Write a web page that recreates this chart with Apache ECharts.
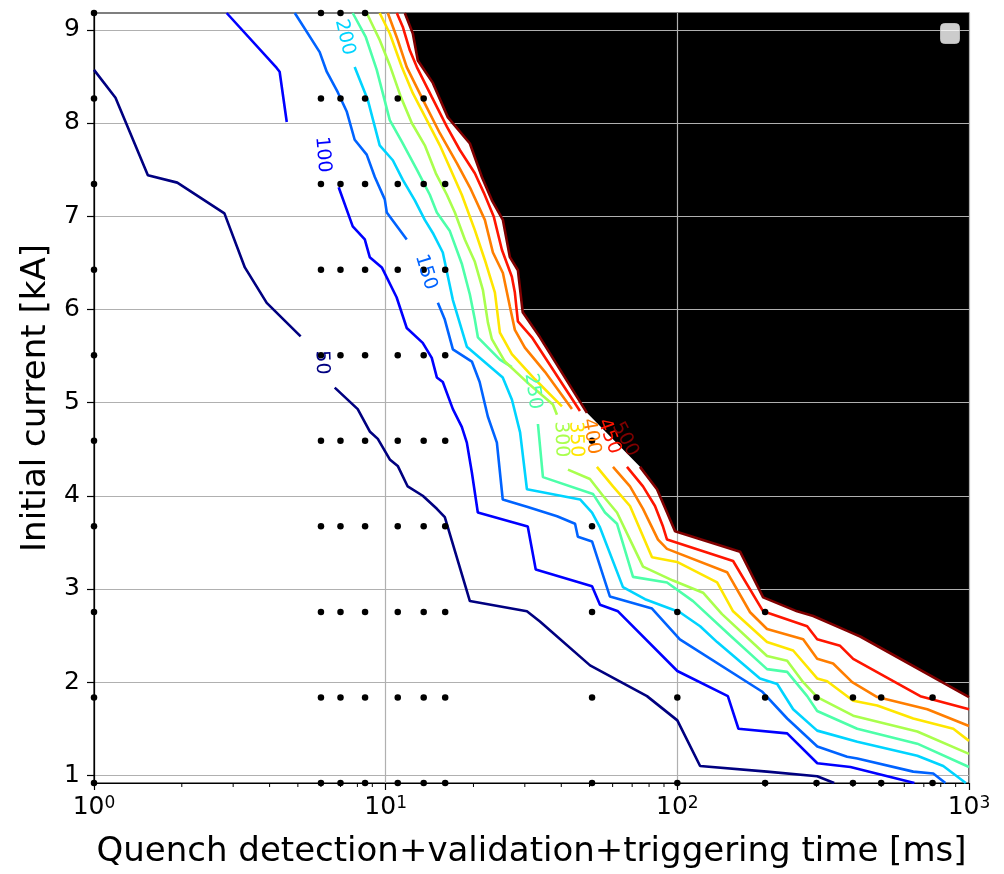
<!DOCTYPE html>
<html><head><meta charset="utf-8">
<script src="https://cdn.jsdelivr.net/npm/echarts@6/dist/echarts.min.js"></script>
<style>html,body{margin:0;padding:0;background:#fff}#c{width:1004px;height:874px}</style>
</head><body><div id="c"></div>
<script>
// ---- axis extents / ticks ----
const timeMin = 1, timeMax = 1000;
const currentMin = 0.918, currentMax = 9.18;
const currentTicks = [1, 2, 3, 4, 5, 6, 7, 8, 9];
const timeMinorTicks = [2,3,4,5,6,7,8,9,20,30,40,50,60,70,80,90,200,300,400,500,600,700,800,900];

// ---- contour levels ----
const levels = [50, 100, 150, 200, 250, 300, 350, 400, 450, 500];
const levelColors = ['#000080','#0000ff','#0063ff','#00d4ff','#4dffa9','#a9ff4d','#ffe600','#ff7e00','#ff1500','#800000'];

// ---- contour polylines [time ms, current kA]; A/B = parts split by inline label ----
const contour050A = [[1,8.57],[1.185,8.27],[1.53,7.44],[1.93,7.36],[2.80,7.03],[3.29,6.45],[3.91,6.07],[5.11,5.71]];
const contour050B = [[6.69,5.16],[8.02,4.93],[8.82,4.69],[9.40,4.61],[10.33,4.39],[11.0,4.32],[11.9,4.10],[13.4,4.00],[14.98,3.86],[15.95,3.77],[19.44,2.87],[30.5,2.76],[33.8,2.65],[50.2,2.18],[78.7,1.85],[100,1.59],[119.7,1.10],[203,1.04],[301.6,0.99],[345,0.918]];
const contour100A = [[2.85,9.18],[4.23,8.59],[4.33,8.55],[4.58,8.01]];
const contour100B = [[6.90,7.31],[7.71,6.89],[8.48,6.75],[8.82,6.56],[9.70,6.45],[10.9,6.13],[11.81,5.80],[13.4,5.64],[14.39,5.48],[14.98,5.27],[15.7,5.22],[17.0,4.93],[18.24,4.74],[18.98,4.57],[19.75,4.25],[20.7,3.82],[30.7,3.67],[32.7,3.21],[51.0,3.03],[54.3,2.83],[62.6,2.76],[100,2.12],[149,1.85],[162,1.50],[238,1.45],[302,1.13],[392,1.09],[650,0.918]];
const contour150A = [[4.88,9.18],[5.94,8.76],[6.28,8.55],[6.85,8.33],[7.36,8.12],[7.83,7.82],[8.61,7.66],[9.18,7.42],[9.93,7.18],[10.09,7.04],[11.81,6.75]];
const contour150B = [[15.1,6.07],[15.95,5.89],[17.0,5.57],[19.75,5.44],[21.0,5.22],[22.4,4.85],[24.06,4.57],[25.2,3.96],[30.7,3.88],[38.7,3.78],[44.6,3.70],[45.6,3.56],[51.0,3.51],[58.7,2.92],[81.9,2.79],[102,2.46],[195,1.90],[238,1.61],[302,1.31],[382,1.20],[414,1.18],[644,1.04],[754,1.02],[830,0.918]];
const contour200A = [[7.83,8.60],[8.68,8.25],[9.54,7.76],[10.58,7.60],[11.45,7.39],[12.59,7.17],[13.62,6.96],[14.51,6.82],[15.7,6.61],[17.0,6.10],[18.98,5.60],[25.2,5.27],[27.1,5.03],[28.9,4.68],[30.5,4.07],[46.4,3.96],[51.0,3.82],[54.3,3.66],[65.1,3.02],[77.5,2.89],[102,2.75],[119.7,2.60],[136.9,2.43],[192,2.04],[220,1.98],[249.5,1.71],[301.6,1.48],[414,1.36],[665,1.21],[816,1.10],[975,0.918]];
const contour250A = [[7.71,9.18],[8.55,8.92],[9.32,8.57],[10.33,8.03],[11.36,7.80],[12.79,7.50],[14.17,7.23],[14.98,7.04],[16.6,6.84],[18.24,6.49],[19.44,6.16],[20.22,5.89],[20.71,5.70],[24.64,5.46],[27.08,5.38]];
const contour250B = [[33.27,4.77],[34.61,4.20],[51.36,4.02],[56.49,3.82],[62.1,3.70],[70.47,3.13],[92.18,3.07],[113.2,2.87],[151.7,2.50],[203,2.14],[238,2.11],[278.7,1.85],[301.6,1.69],[413.7,1.50],[664.8,1.34],[1000,1.09]];
const contour300A = [[8.61,9.18],[9.54,8.89],[10.33,8.62],[11.27,8.28],[12.29,8.00],[13.62,7.76],[14.86,7.46],[16.21,7.23],[17.27,7.04],[18.68,6.75],[20.22,6.51],[21.54,6.21],[22.41,5.86],[23.13,5.68],[25.63,5.44],[31.22,5.19],[37.45,4.98],[38.66,4.87]];
const contour300B = [[42.17,4.28],[50.16,4.18],[55.6,4.00],[62.1,3.82],[68.82,3.53],[76.26,3.24],[96.66,3.09],[122.5,2.96],[142.3,2.73],[203,2.28],[238,2.23],[270,2.00],[301.6,1.84],[400.8,1.64],[664.8,1.47],[1000,1.23]];
const contour350A = [[9.54,9.18],[10.33,8.96],[11.36,8.60],[12.39,8.32],[13.84,8.03],[15.34,7.76],[16.6,7.52],[18.24,7.23],[20.22,6.85],[21.88,6.53],[23.69,6.18],[24.64,5.75],[27.08,5.52],[32.5,5.25],[40.22,4.96]];
const contour350B = [[53.0,4.31],[60.17,4.10],[68.82,3.89],[74.47,3.64],[81.88,3.34],[99.8,3.29],[136.9,3.07],[155.3,2.76],[203,2.43],[249.5,2.34],[301.6,2.04],[326.4,2.01],[400.8,1.80],[484.5,1.75],[644,1.61],[883.5,1.50],[1000,1.37]];
const contour400A = [[10.17,9.18],[11.0,8.89],[11.81,8.60],[13.41,8.25],[15.34,7.89],[17.54,7.57],[19.44,7.31],[21.88,6.96],[23.32,6.61],[25.23,6.39],[26.66,6.03],[27.73,5.78],[30.01,5.59],[35.16,5.33],[43.52,4.93]];
const contour400B = [[60.17,4.31],[68.82,4.10],[76.26,3.86],[85.85,3.53],[92.18,3.43],[148.1,3.18],[177.6,2.75],[203,2.57],[270,2.46],[301.6,2.25],[342,2.20],[397.6,2.00],[484.5,1.84],[719.5,1.71],[1000,1.53]];
const contour450A = [[10.92,9.18],[11.45,9.03],[12.1,8.78],[12.79,8.60],[14.39,8.28],[16.21,7.96],[17.96,7.71],[20.22,7.46],[21.71,7.25],[23.5,6.99],[25.03,6.64],[27.08,6.35],[27.73,6.18],[28.4,5.87],[31.72,5.70],[46.36,4.91]];
const contour450B = [[67.2,4.31],[76.26,4.10],[83.83,3.89],[89.3,3.67],[92.18,3.53],[155.3,3.30],[196.9,2.76],[278.7,2.60],[301.6,2.46],[361.5,2.39],[400.8,2.25],[680.8,1.85],[1000,1.71]];
const contour500A = [[11.63,9.18],[12.39,8.96],[12.89,8.67],[14.51,8.43],[16.34,8.06],[19.44,7.78],[21.37,7.42],[23.13,7.17],[25.23,6.96],[26.66,6.56],[28.4,6.42],[29.5,5.97],[33.8,5.70],[48.98,4.89]];
const contour500B = [[74.47,4.31],[85.17,4.07],[92.18,3.82],[98.2,3.62],[164.1,3.40],[196.9,2.91],[257.5,2.76],[292.2,2.71],[382.2,2.55],[423.6,2.49],[1000,1.84]];

// ---- inline contour labels: position [time, current] ----
const labelPositions = [[6.04,5.43],[6.08,7.66],[13.73,6.40],[7.24,8.92],[31.98,5.12],[39.9,4.605],[44.9,4.605],[50.6,4.637],[58.3,4.637],[66.2,4.605]];
const labelAngles = [88, 85, 73, 77, 82, 88, 88, 80, 70, 62];

// ---- simulated points ----
const dotTimes = [1, 6, 7, 8.5, 11, 13.5, 16, 51, 100, 200, 300, 400, 500, 750];
const dotCurrents = [0.918, 1.836, 2.754, 3.672, 4.59, 5.508, 6.426, 7.344, 8.262, 9.18];
const dotsPerRow = [14, 14, 10, 8, 8, 7, 7, 7, 6, 4];

// ---- build ----
const contourParts = [
  [0, contour050A],[0, contour050B],[1, contour100A],[1, contour100B],[2, contour150A],[2, contour150B],
  [3, contour200A],[4, contour250A],[4, contour250B],[5, contour300A],[5, contour300B],
  [6, contour350A],[6, contour350B],[7, contour400A],[7, contour400B],[8, contour450A],[8, contour450B],
  [9, contour500A],[9, contour500B]
];
const noDataRegion = contour500A.concat(contour500B, [[timeMax, currentMax]]);
const dots = [];
dotCurrents.forEach((c, r) => { for (let i = 0; i < dotsPerRow[r]; i++) dots.push([dotTimes[i], c]); });

const FONT = 'DejaVu Sans';
const series = [];
series.push({
  type: 'custom', z: 1, silent: true, clip: true, data: [[timeMin, currentMin]],
  renderItem: (params, api) => ({
    type: 'polygon', shape: { points: noDataRegion.map(p => api.coord(p)) }, style: { fill: '#000' }
  })
});
contourParts.forEach(([li, pts]) => {
  series.push({
    type: 'line', data: pts, z: 3, silent: true, showSymbol: false, symbol: 'none', clip: true,
    lineStyle: { color: levelColors[li], width: 2.6 }, emphasis: { disabled: true }
  });
});
series.push({
  type: 'scatter', data: dots, z: 4, silent: true, symbolSize: 6.5, clip: false,
  itemStyle: { color: '#000', opacity: 1 }
});
series.push({
  type: 'custom', z: 5, silent: true, clip: false, data: labelPositions,
  renderItem: (params, api) => {
    const i = params.dataIndex;
    const p = api.coord([api.value(0), api.value(1)]);
    return { type: 'text', x: p[0], y: p[1], rotation: -labelAngles[i] * Math.PI / 180,
      style: { text: String(levels[i]), fill: levelColors[i], font: '19px "' + FONT + '"', align: 'center', verticalAlign: 'middle' } };
  }
});
series.push({
  type: 'custom', z: 5, silent: true, clip: false, data: timeMinorTicks.map(v => [v, currentMin]),
  renderItem: (params, api) => {
    const p = api.coord([api.value(0), api.value(1)]);
    return { type: 'line', shape: { x1: p[0], y1: p[1], x2: p[0], y2: p[1] + 4 }, style: { stroke: '#000', lineWidth: 1 } };
  }
});

const chart = echarts.init(document.getElementById('c'), null, { renderer: 'canvas', width: 1004, height: 874 });
chart.setOption({
  animation: false,
  backgroundColor: '#fff',
  grid: { left: 94, right: 35, top: 13, bottom: 90, show: true, backgroundColor: '#fff', borderColor: '#000', borderWidth: 1.2 },
  xAxis: {
    type: 'log', logBase: 10, min: timeMin, max: timeMax, z: 2,
    name: 'Quench detection+validation+triggering time [ms]', nameLocation: 'middle', nameGap: 52,
    nameTextStyle: { fontFamily: FONT, fontSize: 34, color: '#000' },
    axisLine: { show: true, onZero: false, lineStyle: { color: '#000', width: 1.2 } },
    axisTick: { show: true, length: 7, lineStyle: { color: '#000', width: 1.2 } },
    axisLabel: {
      margin: 12, color: '#000',
      formatter: v => '{b|10}{s|' + Math.round(Math.log10(v)) + '}',
      rich: { b: { fontFamily: FONT, fontSize: 25, color: '#000' }, s: { fontFamily: FONT, fontSize: 17, color: '#000', verticalAlign: 'top' } }
    },
    splitLine: { show: true, lineStyle: { color: '#b0b0b0', width: 1.2 } }
  },
  yAxis: {
    type: 'value', min: currentMin, max: currentMax, z: 2,
    name: 'Initial current [kA]', nameLocation: 'middle', nameGap: 39,
    nameTextStyle: { fontFamily: FONT, fontSize: 34, color: '#000' },
    axisLine: { show: true, onZero: false, lineStyle: { color: '#000', width: 1.2 } },
    axisTick: { show: true, length: 7, customValues: currentTicks, lineStyle: { color: '#000', width: 1.2 } },
    axisLabel: { customValues: currentTicks, margin: 14, fontFamily: FONT, fontSize: 25, color: '#000' },
    splitLine: { show: true, lineStyle: { color: '#b0b0b0', width: 1.2 } }
  },
  graphic: [{
    type: 'rect', right: 44, top: 23, z: 10, shape: { width: 19, height: 20, r: 4 },
    style: { fill: 'rgba(255,255,255,0.8)', stroke: 'rgba(204,204,204,0.8)', lineWidth: 1 }
  }],
  series: series
});
</script></body></html>
